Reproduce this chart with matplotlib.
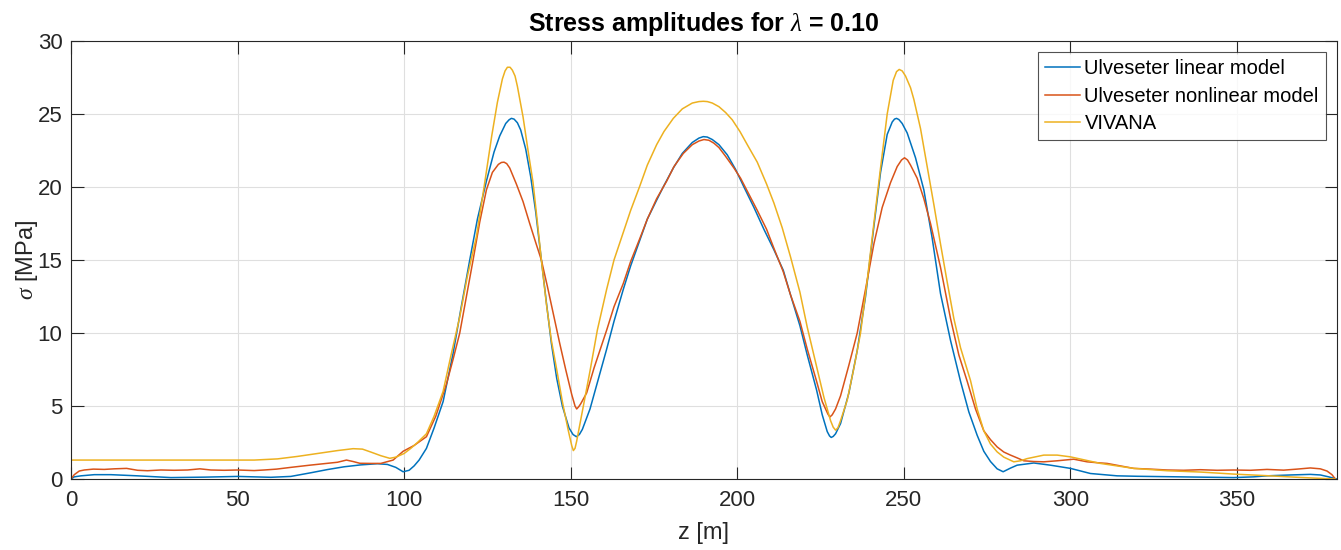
import matplotlib
matplotlib.use("Agg")
import matplotlib.pyplot as plt

plt.rcParams['font.family'] = ['Liberation Sans', 'DejaVu Sans']
plt.rcParams['mathtext.fontset'] = 'custom'
plt.rcParams['mathtext.it'] = 'Liberation Serif:italic'
plt.rcParams['mathtext.rm'] = 'Liberation Sans'

# Ulveseter linear model
z_lin = [0, 1, 3, 7, 12, 20, 30, 40, 50, 60, 66, 72, 77, 82, 87, 92, 95, 97.5, 99.7,
         101.5, 103, 104.5, 106.7, 109, 111.7, 114.7, 117, 119.7, 122, 124.7, 127, 128.7,
         130.5, 131.5, 132.2, 133, 134, 135, 136.5, 138, 139.5, 141.2, 142.7, 144.2, 145.8,
         147.5, 149.5, 150.7, 151.7, 152.6, 153.5, 155.8, 158, 160.8, 163, 165.8, 168,
         170.8, 173, 175.8, 178, 180.8, 183.5, 186.5, 188.5, 189.8, 191, 192.5, 194.5, 197,
         199.5, 202, 205, 208, 211, 213.8, 216, 218.8, 221, 223.8, 225.5, 227, 227.7, 228.2,
         228.8, 229.5, 231, 233.5, 236, 238.5, 241, 243, 245, 246.5, 247.2, 247.8, 248.5,
         249.5, 251, 253.5, 256, 258.5, 261, 264, 267, 269.5, 272, 274, 276, 278, 279.8,
         282, 284, 289, 294, 300, 306, 314, 320, 329, 340, 349, 355, 359, 366, 372, 375,
         377.5, 380]
s_lin = [0, 0.15, 0.22, 0.3, 0.3, 0.22, 0.1, 0.13, 0.18, 0.12, 0.18, 0.43, 0.65, 0.84,
         0.97, 1.05, 1.0, 0.8, 0.5, 0.6, 0.9, 1.3, 2.1, 3.5, 5.3, 8.6, 11.6, 15.0, 17.8,
         20.4, 22.4, 23.5, 24.35, 24.6, 24.7, 24.65, 24.4, 23.9, 22.6, 20.7, 18.3, 15.0,
         12.1, 9.3, 6.9, 5.0, 3.5, 3.05, 2.9, 3.05, 3.4, 4.8, 6.6, 8.9, 10.8, 13.0, 14.6,
         16.4, 17.8, 19.1, 20.1, 21.3, 22.3, 23.05, 23.35, 23.45, 23.42, 23.25, 22.9, 22.2,
         21.2, 20.0, 18.6, 17.1, 15.7, 14.3, 12.6, 10.5, 8.5, 6.1, 4.4, 3.25, 2.95, 2.85,
         2.92, 3.1, 3.8, 5.9, 8.8, 12.5, 17.3, 21.0, 23.6, 24.45, 24.65, 24.7, 24.62, 24.35,
         23.7, 22.0, 19.8, 16.5, 12.7, 9.5, 6.7, 4.6, 3.0, 1.9, 1.2, 0.7, 0.5, 0.75, 0.95,
         1.1, 0.95, 0.73, 0.38, 0.22, 0.19, 0.16, 0.12, 0.1, 0.15, 0.22, 0.28, 0.32, 0.28,
         0.15, 0]

# Ulveseter nonlinear model
z_nl = [0, 1, 2.5, 4, 6.7, 10, 13, 16.7, 20, 23, 27, 31, 35, 38.7, 42, 46, 50, 55, 58,
        61.7, 66, 71.7, 76.7, 80, 82.7, 84.7, 86.7, 90, 93, 96.7, 99.7, 103, 106.7, 109.5,
        112.7, 114.7, 116.7, 118.7, 120.7, 122.7, 124.7, 126.5, 128.3, 129.2, 130, 130.8,
        131.7, 133.7, 135.7, 137.7, 139.5, 141.2, 143, 144.8, 146.7, 148.5, 150.3, 151.3,
        151.8, 152.4, 153, 154.8, 157, 160.8, 163, 165.8, 168, 170.8, 173, 175.8, 178.8,
        181, 183.8, 186.5, 188.5, 190, 191.5, 193, 194.5, 196.5, 199, 201, 203.5, 206,
        208.8, 211, 213.8, 216, 218.8, 221, 223.8, 225.5, 227.2, 227.8, 228.5, 229.5, 231,
        233.5, 236, 238.5, 241, 243.5, 246, 248, 249.3, 250.2, 251.1, 252, 254, 256, 258,
        261, 264, 266.5, 269, 271.5, 274, 276, 278, 280, 282, 284, 286, 289, 292, 296, 301,
        305, 308, 311, 315, 319, 324, 329, 334, 339, 344, 349, 354, 359, 364, 368, 372, 375,
        377, 378.5, 379.5]
s_nl = [0, 0.3, 0.55, 0.62, 0.68, 0.66, 0.7, 0.73, 0.6, 0.57, 0.62, 0.6, 0.62, 0.7, 0.62,
        0.6, 0.62, 0.58, 0.62, 0.68, 0.8, 0.95, 1.07, 1.15, 1.3, 1.2, 1.08, 1.07, 1.07, 1.3,
        1.9, 2.3, 2.9, 4.3, 6.5, 8.2, 10.0, 12.5, 15.0, 17.6, 19.8, 21.0, 21.55, 21.68,
        21.7, 21.6, 21.3, 20.2, 19.0, 17.5, 16.2, 15.0, 13.2, 11.3, 9.3, 7.5, 5.8, 5.0,
        4.8, 4.95, 5.15, 5.9, 7.6, 10.2, 11.8, 13.4, 14.9, 16.5, 17.8, 19.2, 20.4, 21.4,
        22.3, 22.9, 23.15, 23.25, 23.2, 23.0, 22.7, 22.1, 21.3, 20.6, 19.5, 18.4, 17.1,
        15.8, 14.2, 12.6, 10.8, 8.9, 6.7, 5.3, 4.45, 4.25, 4.4, 4.8, 5.7, 7.8, 10.0, 13.0,
        16.1, 18.6, 20.3, 21.4, 21.85, 22.0, 21.85, 21.5, 20.6, 19.2, 17.5, 14.5, 11.0,
        8.5, 6.7, 4.8, 3.3, 2.7, 2.2, 1.85, 1.64, 1.45, 1.25, 1.2, 1.18, 1.25, 1.36, 1.18,
        1.12, 1.07, 0.9, 0.73, 0.68, 0.62, 0.6, 0.64, 0.6, 0.62, 0.6, 0.66, 0.61, 0.68,
        0.76, 0.7, 0.55, 0.3, 0]

# VIVANA
z_viv = [0, 20, 40, 55, 62, 68, 74, 80, 84.7, 87.5, 90, 93, 95.7, 97.5, 100, 102, 104,
         106.7, 109, 111.7, 114, 116.7, 119, 121.7, 124, 126.3, 128, 129.5, 130.3, 131,
         131.8, 132.5, 133.3, 134, 135.7, 137.2, 138.7, 140, 141.2, 142.7, 144.2, 145.8,
         147.5, 149.3, 150.3, 150.8, 151.3, 151.8, 152.8, 155.8, 158, 160.8, 163, 165.8,
         168, 170.8, 173, 175.8, 178, 180.8, 183.5, 186.5, 188.5, 189.8, 191, 192.5, 194.5,
         196.5, 198.5, 200.8, 203, 206, 208.8, 211, 213.5, 216, 218.8, 221, 223.5, 226, 228,
         228.8, 229.5, 230.2, 231, 233, 235, 237, 239, 241, 243, 245, 246.8, 247.8, 248.6,
         249.5, 250.5, 252, 253, 255, 257, 259, 261, 263, 265, 267, 270, 272, 274, 276,
         278, 280, 283, 285, 287, 292, 296, 300, 309, 319, 329, 339, 349, 359, 369, 379.5]
s_viv = [1.3, 1.3, 1.3, 1.3, 1.38, 1.55, 1.75, 1.95, 2.08, 2.05, 1.85, 1.6, 1.42, 1.5,
         1.75, 2.1, 2.5, 3.1, 4.3, 6.0, 8.4, 11.1, 13.9, 16.6, 20.0, 23.5, 25.8, 27.4, 27.95,
         28.2, 28.2, 28.0, 27.6, 26.9, 24.8, 22.5, 20.3, 17.6, 15.0, 12.0, 9.5, 7.5, 5.3,
         3.3, 2.3, 1.95, 2.1, 2.6, 3.8, 7.4, 10.2, 13.0, 15.0, 16.9, 18.4, 20.1, 21.5, 22.9,
         23.8, 24.7, 25.35, 25.75, 25.85, 25.87, 25.85, 25.75, 25.5, 25.1, 24.6, 23.8, 22.9,
         21.7, 20.2, 18.9, 17.2, 15.2, 12.8, 10.4, 8.0, 5.6, 4.0, 3.55, 3.35, 3.5, 4.0, 5.4,
         7.6, 10.0, 13.6, 17.5, 21.3, 25.0, 27.3, 27.9, 28.05, 27.95, 27.6, 26.8, 26.0, 24.0,
         21.4, 18.8, 16.1, 13.5, 11.0, 9.0, 6.75, 4.8, 3.3, 2.4, 1.86, 1.5, 1.18, 1.25, 1.4,
         1.64, 1.64, 1.52, 1.07, 0.73, 0.57, 0.48, 0.34, 0.23, 0.11, 0]

x_ticks = [0, 50, 100, 150, 200, 250, 300, 350]
y_ticks = [0, 5, 10, 15, 20, 25, 30]

ink = '#262626'

fig = plt.figure(figsize=(13.41, 5.5), dpi=100)
ax = fig.add_axes([0.0529, 0.129, 0.9441, 0.7965])

ax.plot(z_lin, s_lin, color='#0072BD', lw=1.1, label='Ulveseter linear model')
ax.plot(z_nl, s_nl, color='#D95319', lw=1.1, label='Ulveseter nonlinear model')
ax.plot(z_viv, s_viv, color='#EDB120', lw=1.1, label='VIVANA')

ax.set_xlim(0, 380)
ax.set_ylim(0, 30)
ax.set_xticks(x_ticks)
ax.set_yticks(y_ticks)
ax.grid(True, color='#dfdfdf', lw=0.8)
ax.set_axisbelow(True)
ax.tick_params(direction='in', length=9, width=0.8, top=True, right=True,
               labelsize=16, colors=ink)
ax.tick_params(axis='x', pad=8)
ax.tick_params(axis='y', pad=6)
for sp in ax.spines.values():
    sp.set_color(ink)
    sp.set_linewidth(0.8)

ax.set_xlabel('z [m]', fontsize=17, color=ink, va='center')
ax.set_ylabel(r'$\sigma$ [MPa]', fontsize=17, color=ink, va='center')
ax.xaxis.set_label_coords(0.5, -0.124)
ax.yaxis.set_label_coords(-0.0348, 0.5)
ax.set_title(r'Stress amplitudes for $\lambda$ = 0.10', fontsize=18, fontweight='bold',
             color='black', pad=7)

leg = ax.legend(loc='upper right', fontsize=14.5, frameon=True, fancybox=False,
                handlelength=1.75, handletextpad=0.2, borderpad=0.35, labelspacing=0.42,
                borderaxespad=0.55)
leg.get_frame().set_edgecolor(ink)
leg.get_frame().set_linewidth(0.8)

fig.savefig('out.png', dpi=100)
